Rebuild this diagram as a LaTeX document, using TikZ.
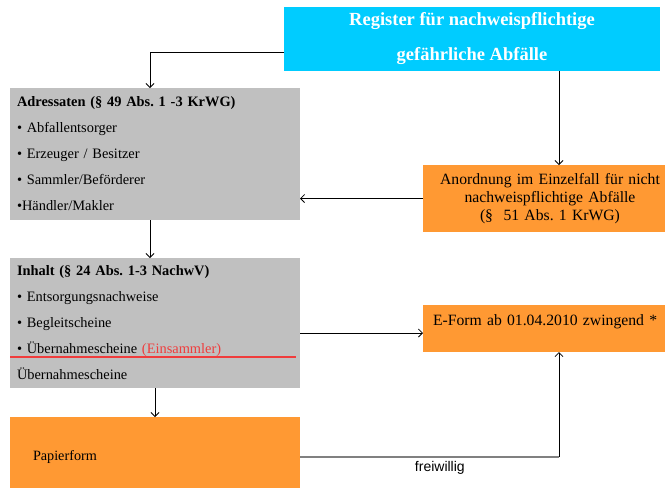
\documentclass[tikz,border=0pt]{standalone}
\usepackage{fontspec}
\setmainfont{Liberation Serif}
\setsansfont{Liberation Sans}
\usetikzlibrary{arrows.meta,positioning}
\definecolor{regblue}{HTML}{00CCFF}
\definecolor{boxgray}{HTML}{C0C0C0}
\definecolor{orangefill}{HTML}{FF9933}
\definecolor{einsred}{HTML}{F03C3C}
\definecolor{linegray}{HTML}{808080}
\frenchspacing
\tikzset{
  box/.style={inner sep=0pt, outer sep=0pt, anchor=north west},
  regbox/.style={box, fill=regblue, text=white, minimum width=376pt, minimum height=64pt, align=center, font=\fontsize{18.5}{35}\selectfont\bfseries},
  graybox/.style={box, fill=boxgray, minimum width=290pt, text width=276pt, inner xsep=7pt, align=left, font=\fontsize{14.4}{26}\selectfont},
  orangebox/.style={box, fill=orangefill, font=\fontsize{15.7}{18}\selectfont},
  arrow/.style={-{Straight Barb[length=4pt,width=8pt]}, line width=0.8pt, draw=black},
  grayline/.style={line width=2pt, draw=linegray},
  redline/.style={line width=1.2pt, draw=einsred},
  smalllabel/.style={font=\sffamily\fontsize{14}{16}\selectfont, text=black},
}
\begin{document}
\begin{tikzpicture}[x=1pt, y=-1pt]
\useasboundingbox (0,0) rectangle (665,488);
\node[regbox] (reg) at (284,7) {Register für nachweispflichtige\\gefährliche Abfälle};
\node[graybox, minimum height=132pt] (adr) at (10,88) {\textbf{Adressaten (§ 49 Abs. 1 -3 KrWG)}\\• Abfallentsorger\\• Erzeuger / Besitzer\\• Sammler/Beförderer\\•Händler/Makler};
\node[graybox, minimum height=130pt, below=38pt of adr] (inh) {\textbf{Inhalt (§ 24 Abs. 1-3 NachwV)}\\• Entsorgungsnachweise\\• Begleitscheine\\• Übernahmescheine \textcolor{einsred}{(Einsammler)}\\Übernahmescheine};
\node[orangebox, minimum width=290pt, minimum height=80pt, text width=244pt, inner xsep=23pt, align=left, font=\fontsize{14.2}{16}\selectfont, below=29pt of inh] (pap) {Papierform};
\node[orangebox, minimum width=254pt, minimum height=67pt, text width=250pt, inner xsep=2pt, align=center] (anord) at (423,165) {Anordnung im Einzelfall für nicht\\nachweispflichtige Abfälle\\(§\ \ 51 Abs. 1 KrWG)};
\node[orangebox, minimum width=254pt, text width=260pt, inner xsep=10pt, text height=20.5pt, text depth=26.5pt, align=left] (eform) at (423,305) {E-Form ab 01.04.2010 zwingend *};
\draw[redline] ([yshift=-34pt]inh.west) -- ([xshift=-4pt,yshift=-34pt]inh.east);
% connectors
\draw[arrow] ([yshift=-13pt]reg.west) -| ([xshift=-5pt]adr.north);
\coordinate (anordin) at ([xshift=9pt]anord.north);
\draw[arrow] (reg.south -| anordin) -- (anordin);
\draw[arrow] (anord.west) -- (anord.west -| adr.east);
\draw[arrow] ([xshift=-5pt]adr.south) -- ([xshift=-5pt]inh.north);
\draw[arrow] ([yshift=-10pt]inh.east) -- ([yshift=-10pt]inh.east -| eform.west);
\draw[arrow] (inh.south) -- (pap.north);
\coordinate (frei) at (pap.east -| anordin);
\draw[grayline] (pap.east) -- node[smalllabel, below, pos=0.54] (freiw) {freiwillig} (frei);
\draw[arrow] (frei) -- (frei |- eform.south);
\end{tikzpicture}
\end{document}
